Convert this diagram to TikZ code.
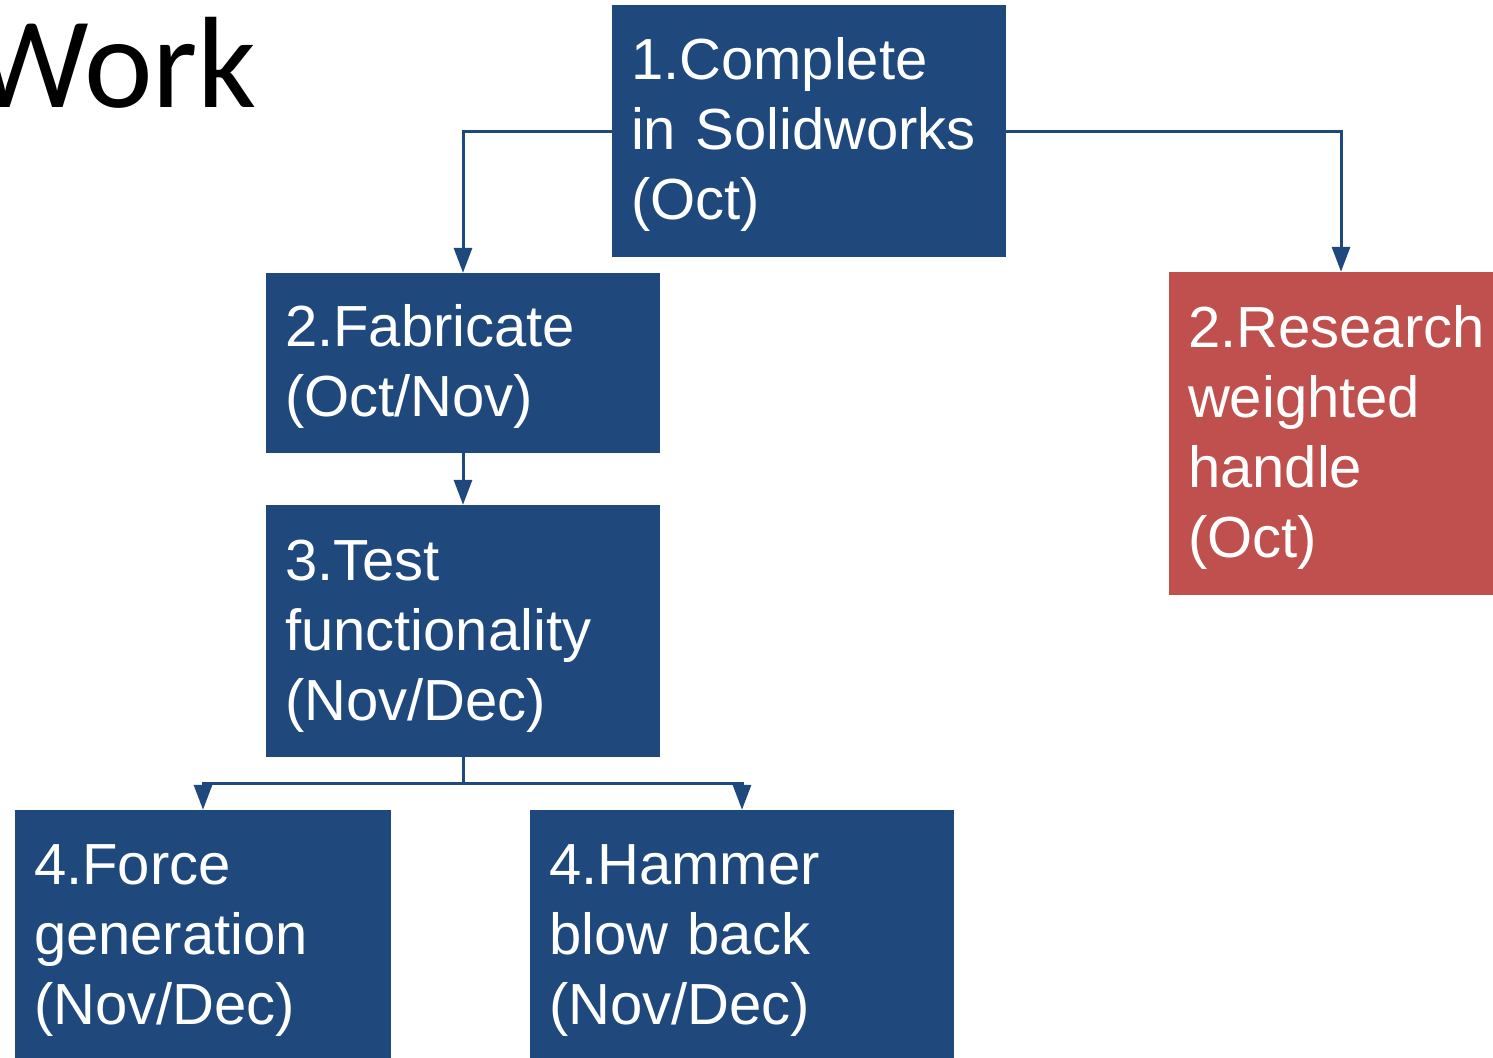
\documentclass[tikz,border=0pt]{standalone}
\usepackage{fontspec}
\setmainfont{Liberation Sans}
\newfontfamily\titlefont{Carlito}
\usetikzlibrary{arrows.meta}
\definecolor{boxblue}{HTML}{1F497D}
\definecolor{boxred}{HTML}{C0504D}
\newcommand{\toppad}{\rule{0pt}{50pt}}
\tikzset{
  taskbox/.style={rectangle, fill=boxblue, draw=none, text=white, inner xsep=19pt, inner ysep=0pt,
    align=left, font=\fontsize{58}{70}\selectfont},
  redbox/.style={taskbox, fill=boxred},
  conn/.style={draw=boxblue, line width=3pt, -{Triangle[length=25pt,width=18pt]}},
  plainconn/.style={draw=boxblue, line width=3pt}
}
\begin{document}
\begin{tikzpicture}[x=1pt,y=-1pt]
\useasboundingbox (0,0) rectangle (1493,1057);
\clip (0,0) rectangle (1493,1057);
\node[anchor=base east, font=\titlefont\fontsize{130}{140}\selectfont, inner sep=0pt] (title) at (257,107) {Work};
\node[taskbox, minimum width=394pt, minimum height=252pt, text width=356pt] (c1) at (809,131) {\toppad1.Complete\\in Solidworks\\(Oct)};
\node[taskbox, minimum width=394pt, minimum height=180pt, text width=356pt] (fab) at (463,363) {\toppad2.Fabricate\\(Oct/Nov)};
\node[taskbox, minimum width=394pt, minimum height=252pt, text width=356pt] (test) at (463,631) {\toppad3.Test\\functionality\\(Nov/Dec)};
\node[taskbox, minimum width=376pt, minimum height=250pt, text width=338pt] (force) at (203,935) {\toppad4.Force\\generation\\(Nov/Dec)};
\node[taskbox, minimum width=424pt, minimum height=250pt, text width=386pt] (hammer) at (742,935) {\toppad4.Hammer\\blow back\\(Nov/Dec)};
\node[redbox, minimum width=344pt, minimum height=323pt, text width=306pt] (red) at (1341,433.5) {\toppad2.Research\\weighted\\handle\\(Oct)};
\draw[conn] (c1.west) -| (fab.north);
\draw[conn] (c1.east) -| (red.north);
\draw[conn] (fab.south) -- (test.north);
\draw[plainconn] (test.south) -- ++(0,26) coordinate (split);
\draw[conn] (split) -| (force.north);
\draw[conn] (split) -| (hammer.north);
\end{tikzpicture}
\end{document}
